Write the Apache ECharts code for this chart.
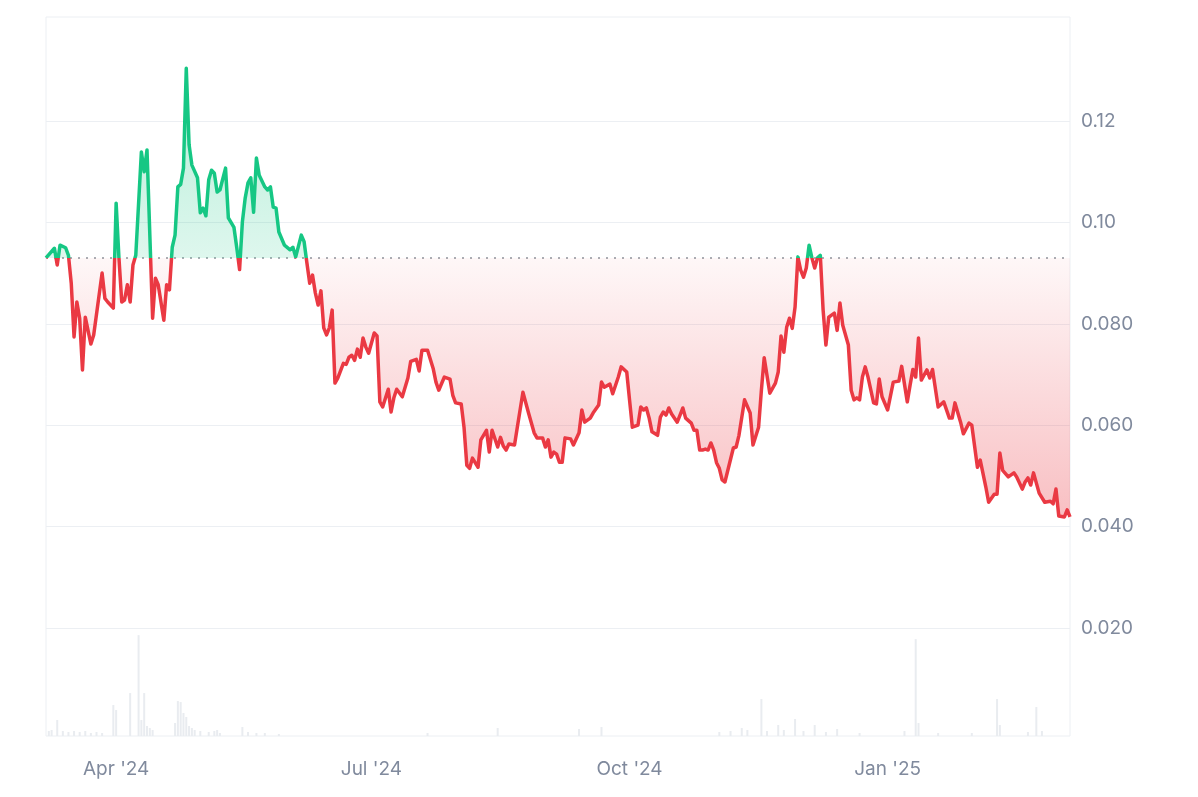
<!DOCTYPE html>
<html><head><meta charset="utf-8">
<script src="https://cdn.jsdelivr.net/npm/echarts@6/dist/echarts.min.js"></script>
<style>html,body{margin:0;padding:0;background:#fff}#c{width:1198px;height:797px}</style>
</head><body><div id="c"></div>
<script>
// Day offsets from START_DATE (2024-03-07) and closing prices
const START_DATE = '2024-03-07';
const dayIdx = [0,3,4,5,7,8,9,10,11,12,13,14,16,17,20,21,22,24,25,26,27,28,29,30,31,32,34,35,36,38,39,40,42,43,44,45,46,47,48,49,50,51,52,54,55,56,57,58,59,60,61,62,64,65,67,68,69,70,71,72,73,74,75,76,78,79,80,81,82,83,85,87,88,89,91,92,93,94,95,96,97,98,99,100,101,102,103,104,106,107,108,109,110,111,112,113,114,115,117,118,119,120,122,123,124,125,127,129,130,132,133,134,136,138,139,140,142,144,145,146,148,149,150,151,152,154,155,157,158,159,161,162,163,164,165,167,168,170,172,174,175,177,178,179,180,181,182,183,184,185,187,188,190,191,192,194,195,197,198,199,201,202,204,205,207,208,209,211,212,213,214,215,216,218,219,220,221,222,223,225,226,227,228,230,231,232,233,234,235,236,237,238,239,240,241,242,245,246,247,249,251,252,254,255,256,258,260,261,262,263,264,265,266,267,268,269,270,271,272,273,274,275,276,277,278,279,280,281,282,283,284,286,287,288,289,290,291,292,293,295,296,297,298,300,302,304,305,307,308,309,310,311,312,314,315,316,318,320,322,323,324,326,327,329,330,332,333,335,336,338,339,340,341,343,345,346,348,349,350,351,352,354,356,358,359,360,361,363,364,365];
const price = [0.0930,0.0949,0.0916,0.0955,0.0950,0.0935,0.0880,0.0774,0.0843,0.0811,0.0709,0.0813,0.0760,0.0778,0.0900,0.0850,0.0843,0.0831,0.1038,0.0930,0.0843,0.0847,0.0877,0.0843,0.0916,0.0935,0.1139,0.1100,0.1143,0.0811,0.0890,0.0877,0.0807,0.0877,0.0867,0.0951,0.0975,0.1070,0.1075,0.1107,0.1304,0.1153,0.1113,0.1088,0.1019,0.1028,0.1013,0.1084,0.1103,0.1097,0.1060,0.1064,0.1107,0.1009,0.0990,0.0950,0.0907,0.1001,0.1048,0.1078,0.1088,0.1020,0.1127,0.1093,0.1070,0.1064,0.1070,0.1030,0.1028,0.0981,0.0955,0.0946,0.0951,0.0932,0.0975,0.0962,0.0920,0.0880,0.0896,0.0861,0.0837,0.0865,0.0792,0.0778,0.0792,0.0827,0.0683,0.0693,0.0722,0.0720,0.0734,0.0738,0.0728,0.0750,0.0734,0.0772,0.0754,0.0742,0.0782,0.0776,0.0646,0.0636,0.0671,0.0626,0.0654,0.0671,0.0656,0.0693,0.0726,0.0730,0.0707,0.0748,0.0748,0.0712,0.0685,0.0669,0.0695,0.0691,0.0659,0.0644,0.0642,0.0596,0.0521,0.0515,0.0535,0.0517,0.0571,0.0590,0.0547,0.0590,0.0557,0.0576,0.0559,0.0551,0.0563,0.0561,0.0596,0.0665,0.0624,0.0585,0.0575,0.0575,0.0557,0.0571,0.0537,0.0547,0.0543,0.0527,0.0527,0.0575,0.0573,0.0561,0.0585,0.0630,0.0606,0.0614,0.0624,0.0640,0.0685,0.0675,0.0681,0.0662,0.0695,0.0715,0.0705,0.0650,0.0596,0.0600,0.0636,0.0630,0.0634,0.0614,0.0587,0.0580,0.0616,0.0626,0.0620,0.0634,0.0622,0.0606,0.0620,0.0634,0.0614,0.0604,0.0590,0.0590,0.0551,0.0551,0.0553,0.0551,0.0565,0.0551,0.0526,0.0515,0.0492,0.0488,0.0555,0.0557,0.0580,0.0650,0.0624,0.0561,0.0596,0.0669,0.0733,0.0663,0.0683,0.0705,0.0776,0.0744,0.0793,0.0811,0.0791,0.0833,0.0932,0.0906,0.0892,0.0910,0.0955,0.0930,0.0910,0.0930,0.0935,0.0827,0.0758,0.0813,0.0817,0.0821,0.0787,0.0841,0.0797,0.0758,0.0669,0.0650,0.0654,0.0650,0.0695,0.0715,0.0695,0.0644,0.0642,0.0691,0.0656,0.0630,0.0685,0.0687,0.0716,0.0646,0.0679,0.0710,0.0695,0.0772,0.0689,0.0709,0.0693,0.0710,0.0636,0.0646,0.0614,0.0614,0.0644,0.0606,0.0583,0.0604,0.0600,0.0517,0.0531,0.0478,0.0448,0.0464,0.0464,0.0545,0.0511,0.0498,0.0506,0.0498,0.0474,0.0488,0.0496,0.0482,0.0506,0.0466,0.0448,0.0450,0.0445,0.0474,0.0421,0.0419,0.0433,0.0419];

// Volume (relative units), by day offset
const volDay = [1,2,4,6,8,10,12,14,16,18,20,24,25,30,33,34,35,36,37,38,46,47,48,49,50,51,52,53,55,58,60,61,62,70,72,75,78,83,136,161,190,198,240,244,248,250,255,257,261,263,267,270,274,278,282,290,306,310,311,318,330,339,340,350,353,355];
const volume = [0.5,0.6,1.6,0.5,0.4,0.5,0.4,0.5,0.3,0.4,0.3,3.1,2.6,4.3,10.1,1.6,4.3,1.0,0.8,0.6,1.3,3.5,3.4,2.3,1.9,1.0,0.8,0.6,0.5,0.4,0.5,0.6,0.3,0.9,0.4,0.3,0.3,0.2,0.3,0.8,0.7,0.9,0.4,0.5,0.8,0.6,3.7,0.5,1.1,0.6,1.7,0.5,1.1,0.4,0.7,0.3,0.5,9.7,1.3,0.3,0.3,3.7,1.1,0.4,2.9,0.5];

const xTickDays = [25, 116, 208, 300];
const xTickLabels = ["Apr '24", "Jul '24", "Oct '24", "Jan '25"];
const yTickValues = [0.02, 0.04, 0.06, 0.08, 0.10, 0.12];
const yTickLabels = ['0.020', '0.040', '0.060', '0.080', '0.10', '0.12'];

const BASE = price[0];
const GREEN = '#16c784', RED = '#ea3943';
const LABEL_COLOR = '#808a9d';
const FONT = 'Inter';

const pMax = Math.max(...price), pMin = Math.min(...price);
const f = (pMax - BASE) / (pMax - pMin);
const firstDay = dayIdx[0], lastDay = dayIdx[dayIdx.length - 1];

const chart = echarts.init(document.getElementById('c'), null, {renderer: 'canvas'});
chart.setOption({
  animation: false,
  backgroundColor: '#fff',
  grid: [
    {left: 46, right: 128, top: 19.6, bottom: 67.6},
    {left: 46, right: 128, top: 17, bottom: 61, show: true, borderColor: '#eceff3', borderWidth: 1, backgroundColor: 'transparent'}
  ],
  xAxis: [
    {gridIndex: 0, type: 'value', min: 0, max: 365, show: false},
    {gridIndex: 1, type: 'value', min: 0, max: 365, interval: 1,
     axisLine: {show: false}, axisTick: {show: false}, splitLine: {show: false},
     axisLabel: {
       margin: 24, color: LABEL_COLOR, fontSize: 19, fontFamily: FONT,
       formatter: v => { const i = xTickDays.indexOf(Math.round(v)); return i >= 0 && Math.abs(v - xTickDays[i]) < 1e-6 ? xTickLabels[i] : ''; }
     }}
  ],
  yAxis: [
    {gridIndex: 0, type: 'value', position: 'right', min: 0, max: 0.14, interval: 0.02,
     axisLine: {show: false}, axisTick: {show: false},
     splitLine: {show: true, showMinLine: false, showMaxLine: false, lineStyle: {color: '#eceff3', width: 1}},
     axisLabel: {
       margin: 11, color: LABEL_COLOR, fontSize: 19, fontFamily: FONT, padding: [4, 0, 0, 0],
       formatter: v => { const i = yTickValues.findIndex(t => Math.abs(t - v) < 1e-9); return i >= 0 ? yTickLabels[i] : ''; }
     }},
    {gridIndex: 1, type: 'value', min: 0, max: 72, show: false}
  ],
  visualMap: {
    type: 'piecewise', show: false, seriesIndex: 1, dimension: 1,
    pieces: [{gt: BASE, lte: 1, color: GREEN}, {gte: 0, lte: BASE, color: RED}]
  },
  series: [
    {
      type: 'bar', xAxisIndex: 1, yAxisIndex: 1, z: 1,
      data: volDay.map((d, i) => [d, volume[i]]),
      barWidth: 2, itemStyle: {color: '#e9ecf0'}
    },
    {
      type: 'line', xAxisIndex: 0, yAxisIndex: 0, z: 3,
      data: dayIdx.map((d, i) => [d, price[i]]),
      showSymbol: false, symbol: 'none',
      lineStyle: {width: 3.5, join: 'round'},
      areaStyle: {
        origin: BASE, opacity: 1,
        color: new echarts.graphic.LinearGradient(0, 0, 0, 1, [
          {offset: 0, color: 'rgba(22,199,132,0.32)'},
          {offset: f, color: 'rgba(22,199,132,0.14)'},
          {offset: f, color: 'rgba(234,57,67,0.04)'},
          {offset: 1, color: 'rgba(234,57,67,0.32)'}
        ])
      }
    },
    {
      // baseline (opening price) as dotted reference line
      type: 'line', xAxisIndex: 0, yAxisIndex: 0, z: 2, silent: true,
      data: [[firstDay, BASE], [lastDay, BASE]],
      showSymbol: false, symbol: 'none',
      lineStyle: {type: [2, 6], color: '#8f949c', width: 1.5}
    }
  ]
});
</script></body></html>
